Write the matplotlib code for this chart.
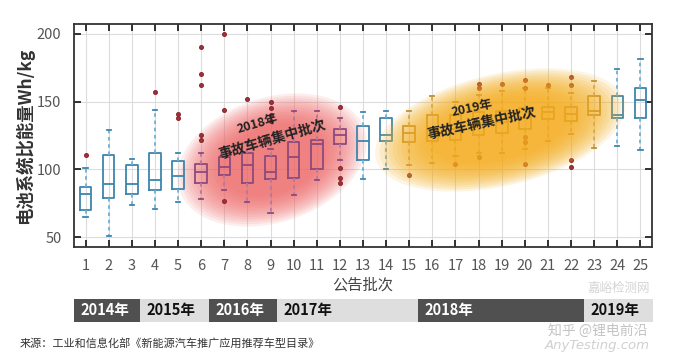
import matplotlib
matplotlib.use("Agg")
import matplotlib.pyplot as plt
from matplotlib.patches import Ellipse, Rectangle
from matplotlib.transforms import Affine2D

plt.rcParams['font.family'] = ['Noto Sans CJK SC', 'DejaVu Sans']

# data (Wh/kg per announcement batch)
batches = list(range(1, 26))
q1 = [70, 79, 82, 85, 86, 90, 96, 90, 93, 94, 100, 119, 107, 121, 120, 121, 122, 125, 127, 130, 137, 136, 140, 138, 138]
med = [82, 89, 89, 92, 95, 98, 102, 103, 98, 109, 119, 125, 121, 125, 127, 129, 130, 133, 135, 138, 142, 141, 143, 140, 151]
q3 = [87, 111, 103, 112, 106, 104, 109, 112, 110, 120, 122, 130, 132, 138, 132, 140, 140, 142, 143, 145, 146, 146, 154, 154, 160]
whis_lo = [65, 51, 74, 71, 76, 78, 85, 76, 68, 81, 92, 107, 93, 100, 103, 105, 110, 112, 112, 115, 121, 126, 116, 117, 114]
whis_hi = [101, 129, 108, 144, 112, 112, 115, 120, 115, 143, 143, 138, 142, 143, 143, 154, 150, 155, 158, 160, 160, 156, 165, 174, 181]
outliers = [[111], [], [], [157], [141, 138],
            [190, 170, 162, 125, 122], [200, 144, 77], [152], [150, 145, 140, 136], [],
            [], [146, 101, 94, 90], [], [], [96],
            [], [104], [163, 160, 109], [163], [166, 160, 124, 120, 104],
            [162], [168, 162, 107, 102], [], [], []]
groups = ['b'] * 5 + ['r'] * 7 + ['b', 'b'] + ['y'] * 9 + ['b', 'b']

years = ['2014年', '2015年', '2016年', '2017年', '2018年', '2019年']
year_span = [(74, 140), (140, 209), (209, 277), (277, 418), (418, 584), (584, 653)]   # pixels

colors = {'b': '#3d86ad', 'r': '#8d4a7c', 'y': '#b48a3c'}
wcolors = {'b': '#6fb0d3', 'r': '#b07a9c', 'y': '#c9a466'}

W, H = 680, 356
fig = plt.figure(figsize=(6.8, 3.56), dpi=100)
ax = fig.add_axes([74 / W, (H - 247) / H, (652 - 74) / W, (247 - 24) / H])


def fx(px):
    return px / W


def fy(py):
    return (H - py) / H


# soft ellipses (pixel -> inch space so the tilt is not distorted)
def blob(cx, cy, w, h, ang, col, n=14, a=0.09, z=1):
    for i in range(n):
        s = 1.0 - 0.035 * i
        e = Ellipse((0, 0), w * s / 100, h * s / 100, facecolor=col, edgecolor='none', alpha=a,
                    transform=Affine2D().rotate_deg(ang).translate(cx / 100, (H - cy) / 100) + fig.dpi_scale_trans,
                    zorder=z)
        e.set_clip_path(ax.patch)
        ax.add_patch(e)


ax.set_xlim(0.5, 25.5)
ax.set_ylim(43, 207)
ax.grid(True, color='#dcdcdc', lw=0.8)
ax.set_axisbelow(True)

blob(272, 160, 195, 125, 18, '#f06868', a=0.11, z=1)

for i, b in enumerate(batches):
    g = groups[i]
    st = [dict(med=med[i], q1=q1[i], q3=q3[i], whislo=whis_lo[i], whishi=whis_hi[i], fliers=outliers[i])]
    ax.bxp(st, positions=[b], widths=0.5, manage_ticks=False, patch_artist=False,
           boxprops=dict(color=colors[g], lw=1.3),
           medianprops=dict(color=colors[g], lw=1.3),
           whiskerprops=dict(color=wcolors[g], lw=1.3, ls=(0, (2, 2))),
           capprops=dict(color=colors[g], lw=1.3),
           capwidths=0.18,
           flierprops=dict(marker='o', markersize=2.6, markerfacecolor='#b3313b', markeredgecolor='#8a2a30'))

blob(500, 130, 255, 112, 13, '#f5ad1e', n=14, a=0.13, z=3)

ax.set_xticks(batches)
ax.set_yticks([50, 100, 150, 200])
ax.tick_params(direction='in', top=True, right=True, length=5, width=1.3, labelsize=10.5,
               labelcolor='#555555', color='#222222', pad=9)
for s in ax.spines.values():
    s.set_linewidth(1.3)
    s.set_color('#333333')

ax.set_ylabel('电池系统比能量Wh/kg', fontsize=12.5, fontweight='bold', color='#333333', labelpad=2)
ax.set_xlabel('公告批次', fontsize=11, color='#444444', labelpad=2)

# annotations on the ellipses
fig.text(fx(258), fy(124), '2018年', fontsize=9, fontweight='bold', color='#222222',
         rotation=16, ha='center', va='center', zorder=10)
fig.text(fx(272), fy(140), '事故车辆集中批次', fontsize=10, fontweight='bold', color='#222222',
         rotation=16, ha='center', va='center', zorder=10)
fig.text(fx(472), fy(108), '2019年', fontsize=9, fontweight='bold', color='#222222',
         rotation=12, ha='center', va='center', zorder=10)
fig.text(fx(482), fy(123), '事故车辆集中批次', fontsize=10, fontweight='bold', color='#222222',
         rotation=12, ha='center', va='center', zorder=10)

# year bar below the chart
for k, (x0, x1) in enumerate(year_span):
    dark = k % 2 == 0
    fig.patches.append(Rectangle((fx(x0), fy(322)), fx(x1) - fx(x0), fy(299) - fy(322),
                                 transform=fig.transFigure, facecolor='#505050' if dark else '#dedede',
                                 edgecolor='none'))
    fig.text(fx(x0 + 6), fy(310.5), years[k], fontsize=10.5, fontweight='bold',
             color='white' if dark else '#111111', ha='left', va='center')

fig.text(fx(20), fy(343), '来源：工业和信息化部《新能源汽车推广应用推荐车型目录》', fontsize=8,
         color='#333333', ha='left', va='center')

# faint watermarks
fig.text(fx(650), fy(288), '嘉峪检测网', fontsize=9, color='#d4d4d4', ha='right', va='center')
fig.text(fx(548), fy(331), '知乎 @锂电前沿', fontsize=10, color='#c4c4c4', ha='left', va='center')
fig.text(fx(650), fy(345), 'AnyTesting.com', fontsize=9.5, style='italic', color='#d0d0d0',
         ha='right', va='center', family='DejaVu Sans')

fig.savefig('out.png', dpi=100)
